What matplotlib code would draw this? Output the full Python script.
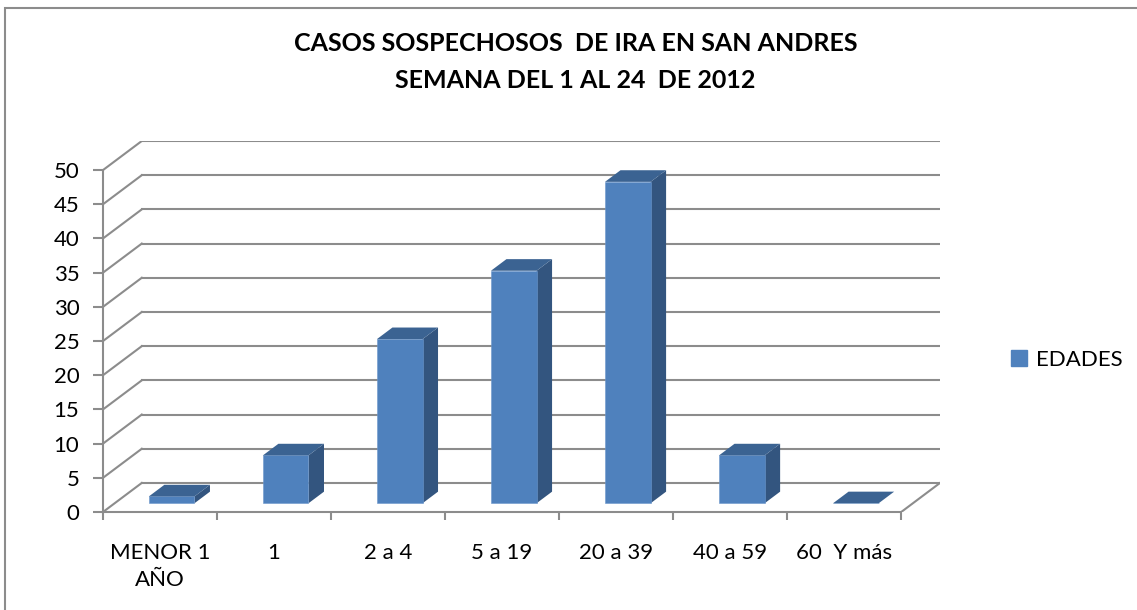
import matplotlib.pyplot as plt
from matplotlib.patches import Polygon, Patch, Rectangle

plt.rcParams['font.family'] = ['Lato', 'DejaVu Sans']

categorias = ['MENOR 1\nAÑO', '1', '2 a 4', '5 a 19', '20 a 39', '40 a 59', '60  Y más']
casos = [1, 7, 24, 34, 47, 7, 0]
y_ticks = list(range(0, 51, 5))
titulo = 'CASOS SOSPECHOSOS  DE IRA EN SAN ANDRES\nSEMANA DEL 1 AL 24  DE 2012'
serie = 'EDADES'

# falso 3D: desplazamiento de la pared del fondo
dx = 0.34
dy = 4.25
d0, d1 = 0.3, 0.7   # profundidad de las barras
ancho = 0.4

c_frente = '#4F81BD'
c_lado = '#33557F'
c_tapa = '#3B6392'
c_grid = '#8C8C8C'

fig = plt.figure(figsize=(11.37, 6.10), dpi=100)
ax = fig.add_axes([103 / 1137, 98 / 610, 837 / 1137, 371 / 610])
n = len(categorias)
ax.set_xlim(-0.5, n - 0.5 + dx)
ax.set_ylim(0, 50 + dy)

# pared del fondo y pared izquierda
for v in y_ticks:
    ax.plot([-0.5 + dx, n - 0.5 + dx], [v + dy, v + dy], color=c_grid, lw=1.5, zorder=1)
    ax.plot([-0.5, -0.5 + dx], [v, v + dy], color=c_grid, lw=1.5, zorder=1)
# piso
ax.plot([n - 0.5, n - 0.5 + dx], [0, dy], color=c_grid, lw=1.5, zorder=1)

# barras
xs = [i + d0 * dx for i in range(n)]
ax.bar(xs, casos, width=ancho, bottom=d0 * dy, color=c_frente, edgecolor='#6C97CC',
       linewidth=0.4, zorder=3)
for x, v in zip(xs, casos):
    x0, x1 = x - ancho / 2, x + ancho / 2
    b = d0 * dy
    t = b + v
    ddx = (d1 - d0) * dx
    ddy = (d1 - d0) * dy
    ax.add_patch(Polygon([(x1, b), (x1 + ddx, b + ddy), (x1 + ddx, t + ddy), (x1, t)],
                         closed=True, facecolor=c_lado, edgecolor='none', zorder=2.9))
    ax.add_patch(Polygon([(x0, t), (x1, t), (x1 + ddx, t + ddy), (x0 + ddx, t + ddy)],
                         closed=True, facecolor=c_tapa, edgecolor='none', zorder=3.1))

# ejes
for s in ['top', 'right']:
    ax.spines[s].set_visible(False)
ax.spines['left'].set_bounds(0, 50)
ax.spines['bottom'].set_bounds(-0.5, n - 0.5)
for s in ['left', 'bottom']:
    ax.spines[s].set_color(c_grid)
    ax.spines[s].set_linewidth(1.5)

ax.set_yticks(y_ticks)
ax.tick_params(axis='y', length=7, width=1.5, color=c_grid, labelsize=16, pad=10)
ax.set_xticks(range(n))
ax.set_xticklabels(categorias, fontsize=16, linespacing=1.45)
ax.tick_params(axis='x', which='major', length=0, pad=22, labelsize=16)
ax.set_xticks([i - 0.5 for i in range(n + 1)], minor=True)
ax.tick_params(axis='x', which='minor', length=6, width=1.5, color=c_grid)

fig.text(0.506, 0.948, titulo, ha='center', va='top', fontsize=18, fontweight='bold',
         linespacing=1.75)

fig.legend(handles=[Patch(color=c_frente, label=serie)], loc='center left',
           bbox_to_anchor=(0.872, 0.41), frameon=False, fontsize=16,
           handlelength=0.7, handleheight=0.7, handletextpad=0.4)

# borde del grafico
fig.add_artist(Rectangle((5 / 1137, -0.1), 1.2, (610 - 8) / 610 + 0.1,
                         transform=fig.transFigure, fill=False, edgecolor='#8C8C8C', lw=1.5))

fig.savefig('out.png', dpi=100)
